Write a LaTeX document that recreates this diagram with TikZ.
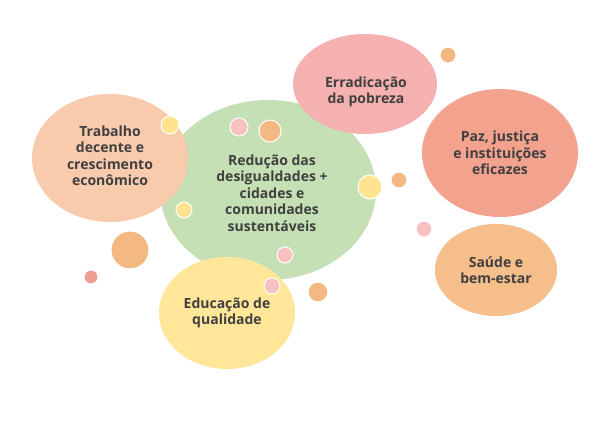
\documentclass[tikz,border=0pt]{standalone}
\usepackage{fontspec}
\setmainfont{Open Sans}
\begin{document}
\begin{tikzpicture}[x=1pt,y=-1pt,
 bub/.style={draw=none,fill=#1},
 lbl/.style={font=\bfseries\fontsize{14}{16.5}\selectfont,text=black!75,align=center}]
\useasboundingbox (0,0) rectangle (600,430);
\fill[fill=white] (0,0) rectangle (600,430);
\definecolor{cg}{HTML}{C5E0B4}\definecolor{ct}{HTML}{F8CBAD}
\definecolor{ce}{HTML}{F5B1AF}\definecolor{cp}{HTML}{F3A28E}
\definecolor{cs}{HTML}{F6BE8A}\definecolor{cy}{HTML}{FFE699}
\definecolor{co}{HTML}{F4B983}\definecolor{cpk}{HTML}{F8C1C1}
\definecolor{cr}{HTML}{EF9A93}\definecolor{cyl}{HTML}{FFE38F}
\fill[cg] (268,190) ellipse [x radius=108,y radius=90];
\fill[ct] (110,158) ellipse [x radius=78,y radius=64];
\fill[ce] (365,84) ellipse [x radius=72,y radius=50];
\fill[cp] (500,153) ellipse [x radius=78,y radius=64];
\fill[cs] (496,270) ellipse [x radius=61,y radius=46];
\fill[cy] (227,313) ellipse [x radius=68,y radius=56];
\foreach \x/\y/\r/\c in {170/125/9/cyl,239/127/9/cpk,270/131/11/co,370/187/12/cyl,399/180/8/co,184/210/8/cyl,130/250/19/co,91/277/7/cr,285/255/8/cpk,272/286/8/cpk,318/292/10/co,448/55/8/co,424/229/8/cpk}
  \fill[\c,draw=white,line width=1pt] (\x,\y) circle (\r);
\node[lbl] (g) at (272,193) {Redução das\\desigualdades +\\cidades e\\comunidades\\sustentáveis};
\node[lbl] (t) at (110,156) {Trabalho\\decente e\\crescimento\\econômico};
\node[lbl] (e) at (366,92) {Erradicação\\da pobreza};
\node[lbl] (p) at (500,153) {Paz, justiça\\e instituições\\eficazes};
\node[lbl] (s) at (496,270) {Saúde e\\bem-estar};
\node[lbl] (d) at (227,313) {Educação de\\qualidade};
\end{tikzpicture}
\end{document}
